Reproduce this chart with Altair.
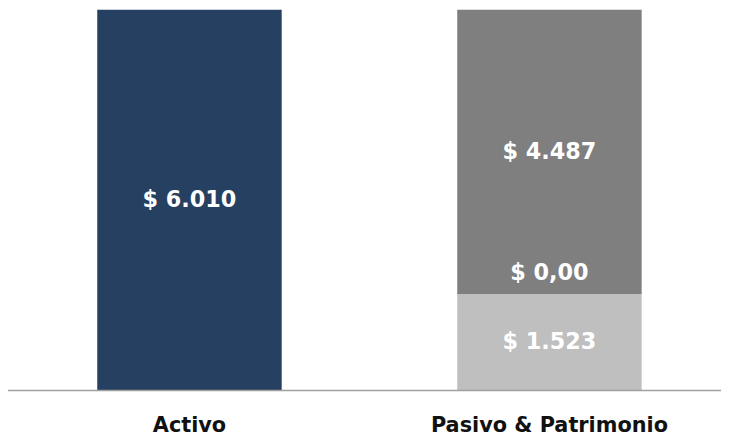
import altair as alt
import pandas as pd

categories = ["Activo", "Pasivo & Patrimonio", "Pasivo & Patrimonio", "Pasivo & Patrimonio"]
series = ["Activo", "Pasivo", "Otros", "Patrimonio"]
values = [6010, 1523, 0, 4487]
labels = ["$ 6.010", "$ 1.523", "$ 0,00", "$ 4.487"]
colors = ["#264061", "#bfbfbf", "#7f7f7f", "#7f7f7f"]

rows = []
acc = {}
for c, s, v, l in zip(categories, series, values, labels):
    start = acc.get(c, 0)
    end = start + v
    acc[c] = end
    rows.append({"cat": c, "series": s, "value": v, "start": start, "end": end,
                 "mid": (start + end) / 2, "label": l, "zero": v == 0})
df = pd.DataFrame(rows)

order = ["Activo", "Pasivo & Patrimonio"]
xenc = alt.X("cat:N", sort=order,
             scale=alt.Scale(range=[1.5, 727.5], paddingInner=0, paddingOuter=0),
             axis=alt.Axis(title=None, domain=False, ticks=False, tickSize=0, labelAngle=0,
                           labelFont="DejaVu Sans", labelFontWeight="bold", labelFontSize=21,
                           labelColor="#111111", labelBaseline="alphabetic", labelPadding=41,
                           labelLimit=0))
yscale = alt.Scale(domain=[0, 6010], nice=False, zero=True)

base = alt.Chart(df)

bars = base.mark_bar(size=186).encode(
    x=xenc,
    y=alt.Y("start:Q", scale=yscale, axis=None),
    y2="end:Q",
    color=alt.Color("series:N", scale=alt.Scale(domain=series, range=colors), legend=None),
)

text = base.transform_filter("!datum.zero").mark_text(
    font="DejaVu Sans", fontWeight="bold", fontSize=22.5, color="white", baseline="middle"
).encode(x=alt.X("cat:N", sort=order), y=alt.Y("mid:Q"), text="label:N")

text0 = base.transform_filter("datum.zero").mark_text(
    font="DejaVu Sans", fontWeight="bold", fontSize=22.5, color="white", baseline="middle", dy=-21
).encode(x=alt.X("cat:N", sort=order), y=alt.Y("mid:Q"), text="label:N")

rule = base.transform_filter("datum.series == 'Activo'").mark_rule(
    color="#a0a0a0", strokeWidth=1.5
).encode(y=alt.datum(0), x=alt.value(-2), x2=alt.value(725))

chart = alt.layer(bars, text, text0, rule).properties(
    width=719, height=384,
    autosize=alt.AutoSizeParams(type="none"),
    padding={"left": 0, "top": 0, "right": 0, "bottom": 46},
).configure_view(stroke=None)

chart.save("out.html", embed_options={"renderer": "svg", "actions": False})
